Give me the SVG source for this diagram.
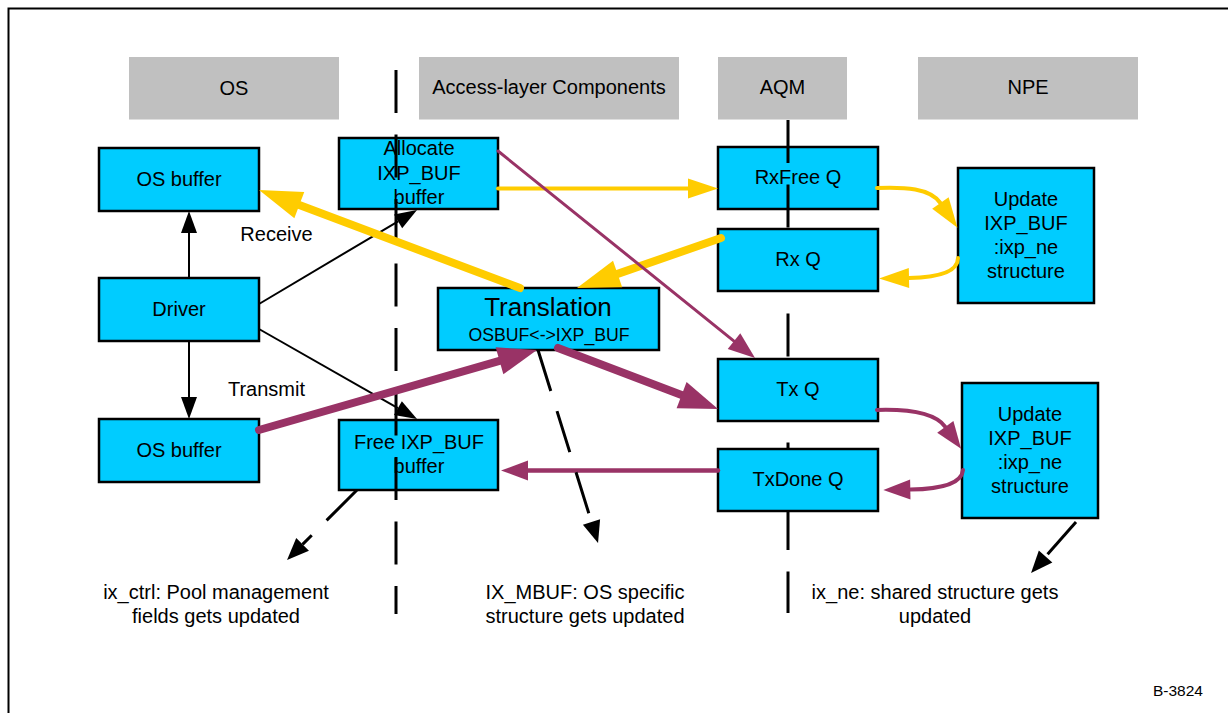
<svg xmlns="http://www.w3.org/2000/svg" width="1228" height="713" viewBox="0 0 1228 713">
  <style>
    text { font-family: "Liberation Sans", Arial, sans-serif; font-size: 20px; fill: #000; text-anchor: middle; }
    .hdr { fill: #C0C0C0; }
    .box { fill: #00CCFF; stroke: #000; stroke-width: 2.5; }
    .divider { fill: none; stroke: #000; stroke-width: 3; stroke-dasharray: 43 21.5; }
    .blk { fill: none; stroke: #000; stroke-width: 2; }
    .blk-dash { fill: none; stroke: #000; stroke-width: 3; stroke-dasharray: 43 21; }
    .yel { fill: none; stroke: #FFCC00; stroke-linecap: round; }
    .pur { fill: none; stroke: #993366; stroke-linecap: round; }
  </style>
  <defs>
    <marker id="ah-black" markerUnits="userSpaceOnUse" markerWidth="30" markerHeight="30" refX="0" refY="0" orient="auto" overflow="visible">
      <path d="M0,-8 L22,0 L0,8 z" fill="#000"/>
    </marker>
    <marker id="ah-black-d" markerUnits="userSpaceOnUse" markerWidth="30" markerHeight="30" refX="0" refY="0" orient="auto" overflow="visible">
      <path d="M0,-9 L22,0 L0,9 z" fill="#000"/>
    </marker>
    <marker id="ah-yel-s" markerUnits="userSpaceOnUse" markerWidth="40" markerHeight="40" refX="0" refY="0" orient="auto" overflow="visible">
      <path d="M0,-10 L30,0 L0,10 z" fill="#FFCC00"/>
    </marker>
    <marker id="ah-yel-l" markerUnits="userSpaceOnUse" markerWidth="50" markerHeight="50" refX="0" refY="0" orient="auto" overflow="visible">
      <path d="M0,-14 L43,0 L0,14 z" fill="#FFCC00"/>
    </marker>
    <marker id="ah-pur-s" markerUnits="userSpaceOnUse" markerWidth="40" markerHeight="40" refX="0" refY="0" orient="auto" overflow="visible">
      <path d="M0,-10 L27,0 L0,10 z" fill="#993366"/>
    </marker>
    <marker id="ah-pur-l" markerUnits="userSpaceOnUse" markerWidth="50" markerHeight="50" refX="0" refY="0" orient="auto" overflow="visible">
      <path d="M0,-14 L39,0 L0,14 z" fill="#993366"/>
    </marker>
  </defs>

  <rect width="1228" height="713" fill="#fff"/>
  <!-- frame -->
  <path d="M8.5,713 V8.5 H1228" fill="none" stroke="#000" stroke-width="2"/>

  <!-- column headers -->
  <g id="hdr-os"><rect class="hdr" x="129" y="57" width="210" height="62.5"/><text x="234" y="95">OS</text></g>
  <g id="hdr-access"><rect class="hdr" x="419" y="57" width="260" height="62.5"/><text x="549" y="94">Access-layer Components</text></g>
  <g id="hdr-aqm"><rect class="hdr" x="718" y="57" width="129" height="62.5"/><text x="782.5" y="94">AQM</text></g>
  <g id="hdr-npe"><rect class="hdr" x="918" y="57" width="220" height="62.5"/><text x="1028" y="94">NPE</text></g>

  <g id="rxfree-q"><rect class="box" x="718" y="147" width="160" height="62"/><text x="798" y="184">RxFree Q</text></g>

  <!-- AQM column divider -->
  <g id="divider-aqm"><path class="divider" d="M788,120 V613"/></g>

  <g id="os-buffer-rx"><rect class="box" x="99" y="148" width="160" height="63"/><text x="179" y="186">OS buffer</text></g>
  <g id="driver"><rect class="box" x="99" y="278" width="160" height="63"/><text x="179" y="316">Driver</text></g>
  <g id="os-buffer-tx"><rect class="box" x="99" y="419" width="160" height="63"/><text x="179" y="457">OS buffer</text></g>

  <g id="allocate"><rect class="box" x="339" y="138" width="159" height="71"/>
    <text x="419" y="155">Allocate</text><text x="419" y="179.5">IXP_BUF</text><text x="419" y="203.5">buffer</text></g>
  <g id="free"><rect class="box" x="339" y="420" width="159" height="70"/>
    <text x="419" y="449">Free IXP_BUF</text><text x="419" y="472.5">buffer</text></g>

  <g id="translation"><rect class="box" x="438" y="288" width="221" height="62"/>
    <text x="548" y="315.5" style="font-size:26px">Translation</text>
    <text x="549" y="341" style="font-size:17.7px">OSBUF&lt;-&gt;IXP_BUF</text></g>

  <g id="rx-q"><rect class="box" x="718" y="229" width="160" height="62"/><text x="798" y="266">Rx Q</text></g>
  <g id="tx-q"><rect class="box" x="718" y="359" width="160" height="62"/><text x="798" y="396">Tx Q</text></g>
  <g id="txdone-q"><rect class="box" x="718" y="449" width="160" height="62"/><text x="798" y="486">TxDone Q</text></g>

  <g id="npe-update-rx"><rect class="box" x="958" y="168" width="136" height="135"/>
    <text x="1026" y="206">Update</text><text x="1026" y="230">IXP_BUF</text><text x="1026" y="254">:ixp_ne</text><text x="1026" y="278">structure</text></g>
  <g id="npe-update-tx"><rect class="box" x="962" y="383" width="136" height="135"/>
    <text x="1030" y="421">Update</text><text x="1030" y="445">IXP_BUF</text><text x="1030" y="469">:ixp_ne</text><text x="1030" y="493">structure</text></g>

  <!-- OS / access-layer divider -->
  <g id="divider-os"><path class="divider" d="M396,70 V614"/></g>

  <!-- connectors -->
  <g id="connectors">
    <path class="blk" d="M189,278 V233" marker-end="url(#ah-black)"/>
    <path class="blk" d="M189,341 V397" marker-end="url(#ah-black)"/>
    <path class="blk" d="M259,304 L398.1,221.3" marker-end="url(#ah-black)"/>
    <path class="blk" d="M259,329 L397.9,408.1" marker-end="url(#ah-black)"/>

    <path class="yel" stroke-width="8" d="M520,288 L299.3,205.1" marker-end="url(#ah-yel-l)"/>
    <path class="yel" stroke-width="4" d="M498,188.5 H688" marker-end="url(#ah-yel-s)"/>
    <path class="yel" stroke-width="8" d="M721,238 L617.6,273.9" marker-end="url(#ah-yel-l)"/>
    <path class="yel" stroke-width="4" d="M877,188 C905,187 930,188 940.4,203" marker-end="url(#ah-yel-s)"/>
    <path class="yel" stroke-width="4" d="M958,258 C958,271 940,277.4 909,278" marker-end="url(#ah-yel-s)"/>

    <path class="pur" stroke-width="3" d="M498,151 L734,341.1" marker-end="url(#ah-pur-s)"/>
    <path class="pur" stroke-width="8" d="M259,430 L499.5,360.8" marker-end="url(#ah-pur-l)"/>
    <path class="pur" stroke-width="8" d="M558,348 L681.6,395.1" marker-end="url(#ah-pur-l)"/>
    <path class="pur" stroke-width="4.5" d="M718,470.5 H528" marker-end="url(#ah-pur-s)"/>
    <path class="pur" stroke-width="4" d="M877,410 C910,409 936,414 945.3,426.9" marker-end="url(#ah-pur-s)"/>
    <path class="pur" stroke-width="4" d="M963,470 C962,482 945,489 910.3,489.6" marker-end="url(#ah-pur-s)"/>

    <path class="blk-dash" d="M357,490 L302.6,544.4" marker-end="url(#ah-black-d)"/>
    <path class="blk-dash" d="M538,350 L591.5,522" marker-end="url(#ah-black-d)"/>
    <path class="blk-dash" d="M1076,522 L1045.6,556.5" marker-end="url(#ah-black-d)"/>
  </g>

  <!-- flow labels -->
  <text x="276.5" y="241">Receive</text>
  <text x="266.5" y="396">Transmit</text>

  <!-- notes -->
  <g id="note-ctrl"><text x="216" y="599">ix_ctrl: Pool management</text><text x="216" y="622.7">fields gets updated</text></g>
  <g id="note-mbuf"><text x="585" y="598.5">IX_MBUF: OS specific</text><text x="585" y="622.7">structure gets updated</text></g>
  <g id="note-ne"><text x="935" y="599">ix_ne: shared structure gets</text><text x="935" y="622.7">updated</text></g>

  <text x="1178" y="696" style="font-size:15.5px">B-3824</text>
</svg>
